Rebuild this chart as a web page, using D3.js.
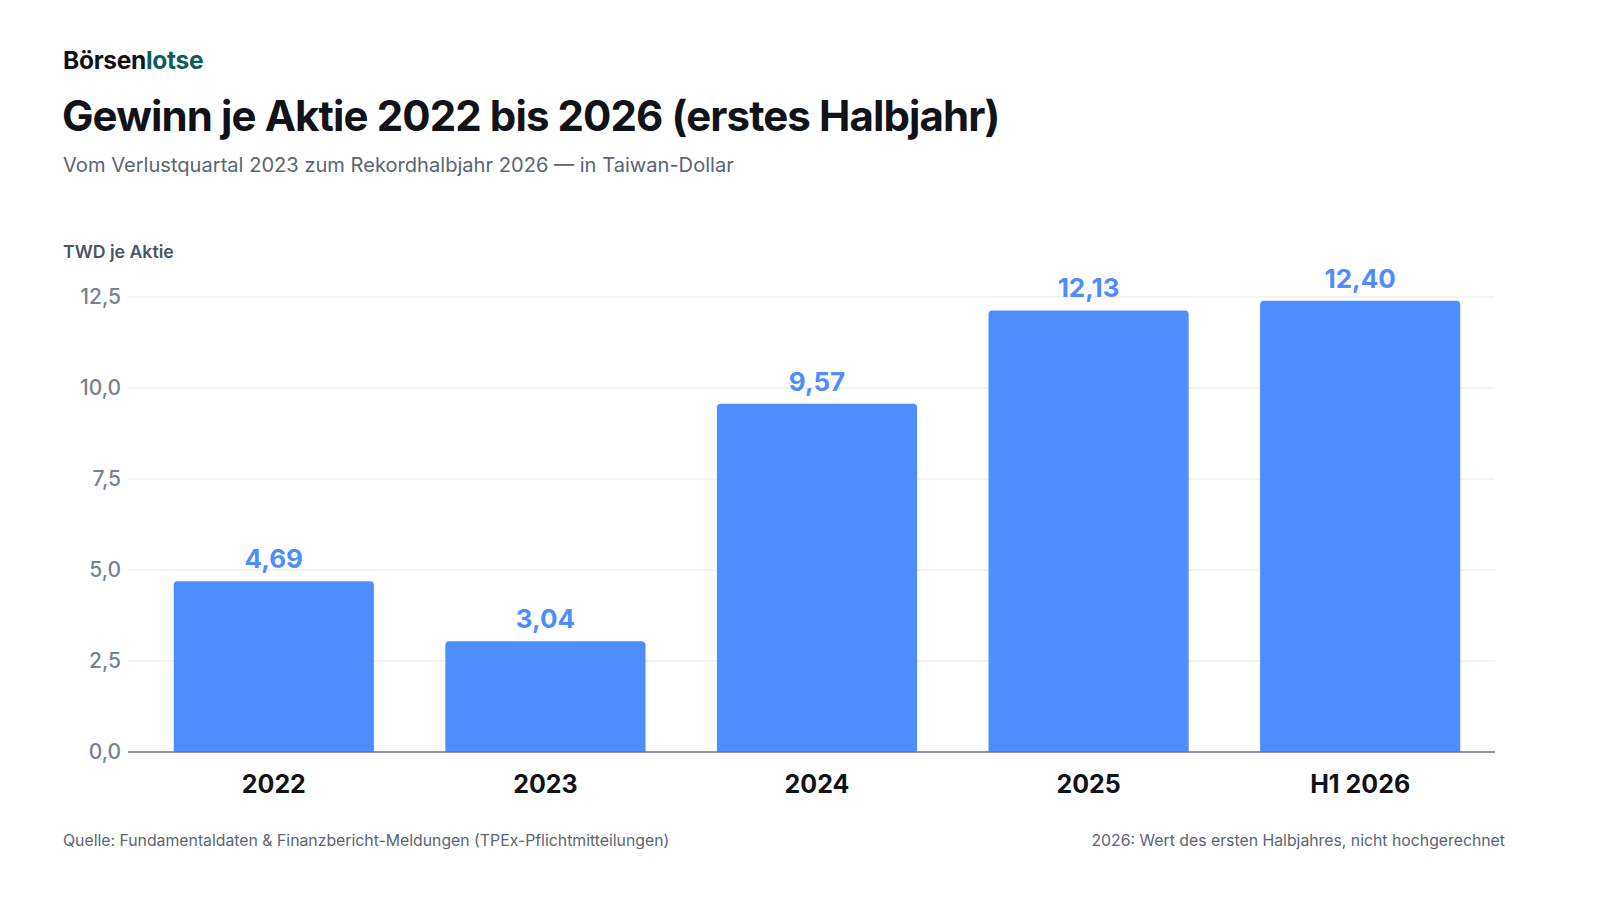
<!DOCTYPE html>
<html>
<head>
<meta charset="utf-8">
<script src="https://cdn.jsdelivr.net/npm/d3@7"></script>
<style>
  html, body { margin: 0; padding: 0; background: #fff; overflow: hidden; }
  svg { display: block; font-family: Inter, "Noto Sans", sans-serif; }
</style>
</head>
<body>
<div id="chart"></div>
<script>
// data
var categories = ["2022", "2023", "2024", "2025", "H1 2026"];
var eps = [4.69, 3.04, 9.57, 12.13, 12.40];
var yTicks = [0, 2.5, 5, 7.5, 10, 12.5];

var W = 1600, H = 900;
var plotLeft = 128, plotRight = 1495, plotTop = 297, plotBottom = 752;

var svg = d3.select("#chart").append("svg").attr("width", W).attr("height", H);

// header
var logo = svg.append("text").attr("x", 63).attr("y", 69)
  .style("font-size", "24.5px").style("font-weight", 700).style("letter-spacing", "-0.3px");
logo.append("tspan").attr("fill", "#111318").text("Börsen");
logo.append("tspan").attr("fill", "#0d5c5c").text("lotse");

svg.append("text").attr("x", 62).attr("y", 131)
  .attr("fill", "#111318")
  .style("font-size", "42px").style("font-weight", 700).style("letter-spacing", "-0.9px")
  .text("Gewinn je Aktie 2022 bis 2026 (erstes Halbjahr)");

svg.append("text").attr("x", 63).attr("y", 172)
  .attr("fill", "#5b6573")
  .style("font-size", "20.1px")
  .text("Vom Verlustquartal 2023 zum Rekordhalbjahr 2026 \u2014 in Taiwan-Dollar");

svg.append("text").attr("x", 63).attr("y", 258)
  .attr("fill", "#4b5563")
  .style("font-size", "17.7px").style("font-weight", 600)
  .text("TWD je Aktie");

// scales
var y = d3.scaleLinear().domain([0, 12.5]).range([plotBottom, plotTop]);
var x = d3.scaleBand().domain(categories).range([133, 1501])
  .paddingInner(0.263).paddingOuter(0.15);

var fmt = function(v, d) { return v.toFixed(d).replace(".", ","); };

// grid
svg.append("g").selectAll("line").data(yTicks.slice(1)).enter().append("line")
  .attr("x1", plotLeft).attr("x2", plotRight)
  .attr("y1", function(d) { return y(d); })
  .attr("y2", function(d) { return y(d); })
  .attr("stroke", "#e5e7ea").attr("stroke-width", 1.2);

// y axis labels
var yAxis = svg.append("g").attr("transform", "translate(" + plotLeft + ",0)")
  .call(d3.axisLeft(y).tickValues(yTicks).tickSize(0).tickPadding(7)
    .tickFormat(function(d) { return fmt(d, 1); }));
yAxis.select(".domain").remove();
yAxis.selectAll("text").attr("fill", "#788290")
  .style("font-size", "21px").style("font-weight", 500).style("font-family", "Inter, sans-serif");

// bars with rounded top
function barPath(d, i) {
  var x0 = x(categories[i]), w = x.bandwidth(), y0 = y(d), yb = y(0), r = 4;
  return "M" + x0 + "," + yb + "V" + (y0 + r) + "Q" + x0 + "," + y0 + " " + (x0 + r) + "," + y0 +
    "H" + (x0 + w - r) + "Q" + (x0 + w) + "," + y0 + " " + (x0 + w) + "," + (y0 + r) + "V" + yb + "Z";
}
svg.append("g").selectAll("path").data(eps).enter().append("path")
  .attr("d", barPath)
  .attr("fill", "#4d8dff");

// value labels
svg.append("g").selectAll("text").data(eps).enter().append("text")
  .attr("x", function(d, i) { return x(categories[i]) + x.bandwidth() / 2; })
  .attr("y", function(d) { return y(d) - 13; })
  .attr("text-anchor", "middle")
  .attr("fill", "#4d8dff")
  .style("font-size", "26px").style("font-weight", 700)
  .text(function(d) { return fmt(d, 2); });

// baseline
svg.append("line").attr("x1", plotLeft).attr("x2", plotRight)
  .attr("y1", y(0)).attr("y2", y(0))
  .attr("stroke", "#6b7480").attr("stroke-width", 1.5);

// x axis labels
var xAxis = svg.append("g").attr("transform", "translate(0," + plotBottom + ")")
  .call(d3.axisBottom(x).tickSize(0).tickPadding(23));
xAxis.select(".domain").remove();
xAxis.selectAll("text").attr("fill", "#111318")
  .style("font-size", "25px").style("font-weight", 700).style("font-family", "Inter, sans-serif");

// footer
svg.append("text").attr("x", 63).attr("y", 846)
  .attr("fill", "#5b6573").style("font-size", "15.8px")
  .text("Quelle: Fundamentaldaten & Finanzbericht-Meldungen (TPEx-Pflichtmitteilungen)");
svg.append("text").attr("x", 1505).attr("y", 846).attr("text-anchor", "end")
  .attr("fill", "#5b6573").style("font-size", "15.8px")
  .text("2026: Wert des ersten Halbjahres, nicht hochgerechnet");
</script>
</body>
</html>
